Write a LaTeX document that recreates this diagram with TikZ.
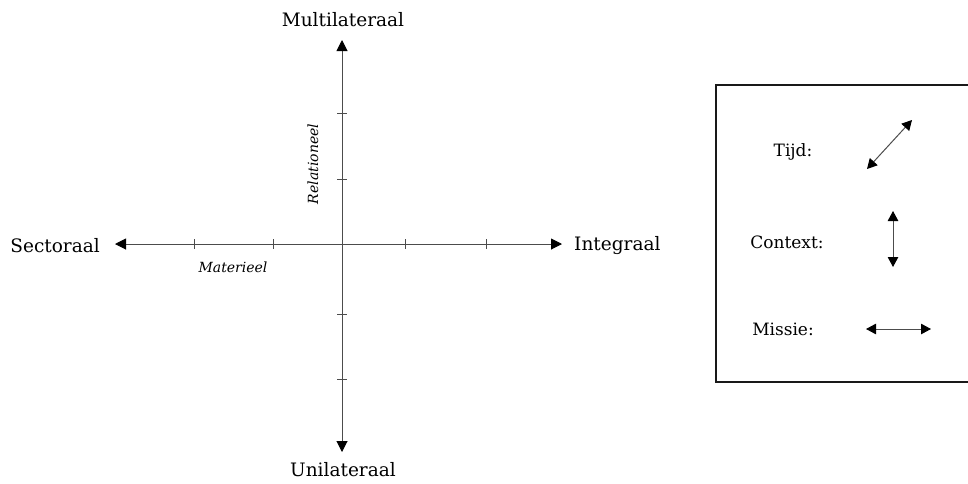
\documentclass[tikz,border=0pt]{standalone}
\usepackage{fontspec}
\setmainfont{DejaVu Serif}
\usetikzlibrary{arrows.meta}
\tikzset{
  axis/.style={draw=black!70, line width=1pt, -{Triangle[length=11pt,width=11pt,color=black]}},
  tick/.style={draw=black!70, line width=0.9pt},
  pole/.style={font=\fontsize{18.5}{20}\selectfont, inner sep=0pt},
  sub/.style={font=\fontsize{14}{16}\selectfont\itshape, inner sep=0pt},
  key/.style={font=\fontsize{17}{19}\selectfont, inner sep=0pt},
  dimarrow/.style={draw=black!70, line width=1pt, {Triangle[length=10pt,width=10.5pt,color=black]}-{Triangle[length=10pt,width=10.5pt,color=black]}}
}
\begin{document}
\begin{tikzpicture}[x=1pt,y=-1pt]
  \useasboundingbox (0,0) rectangle (968,483);
  % origin of the two axes
  \coordinate (o) at (342,244);
  \coordinate (left) at (115,244);
  \coordinate (right) at (562,244);
  \coordinate (top) at (342,40);
  \coordinate (bottom) at (342,452);
  \draw[axis] (o) -- (left);
  \draw[axis] (o) -- (right);
  \draw[axis] (o) -- (top);
  \draw[axis] (o) -- (bottom);
  % tick marks
  \foreach \x in {194,273,405,486} \draw[tick] (\x,239) -- (\x,249);
  \foreach \y in {113,179,314,379} \draw[tick] (337,\y) -- (347,\y);
  % pole labels
  \node[pole] (multi) at (343,20) {Multilateraal};
  \node[pole] (uni) at (343,470) {Unilateraal};
  \node[pole, anchor=east] (sect) at (100,246) {Sectoraal};
  \node[pole, anchor=west] (integ) at (574,246) {Integraal};
  \node[sub] (mat) at (233,267) {Materieel};
  \node[sub, rotate=90] (rel) at (313,164) {Relationeel};
  % legend
  \draw[line width=1.3pt, draw=black!90] (716,85) rectangle (980,382);
  \node[key] (tijd) at (793,152) {Tijd:};
  \node[key] (context) at (787,242) {Context:};
  \node[key] (missie) at (783,329) {Missie:};
  \coordinate (t1) at (867,169); \coordinate (t2) at (912,120);
  \coordinate (c1) at (893,211); \coordinate (c2) at (893,267);
  \coordinate (m1) at (866,329); \coordinate (m2) at (931,329);
  \draw[dimarrow] (t1) -- (t2);
  \draw[dimarrow] (c1) -- (c2);
  \draw[dimarrow] (m1) -- (m2);
\end{tikzpicture}
\end{document}
